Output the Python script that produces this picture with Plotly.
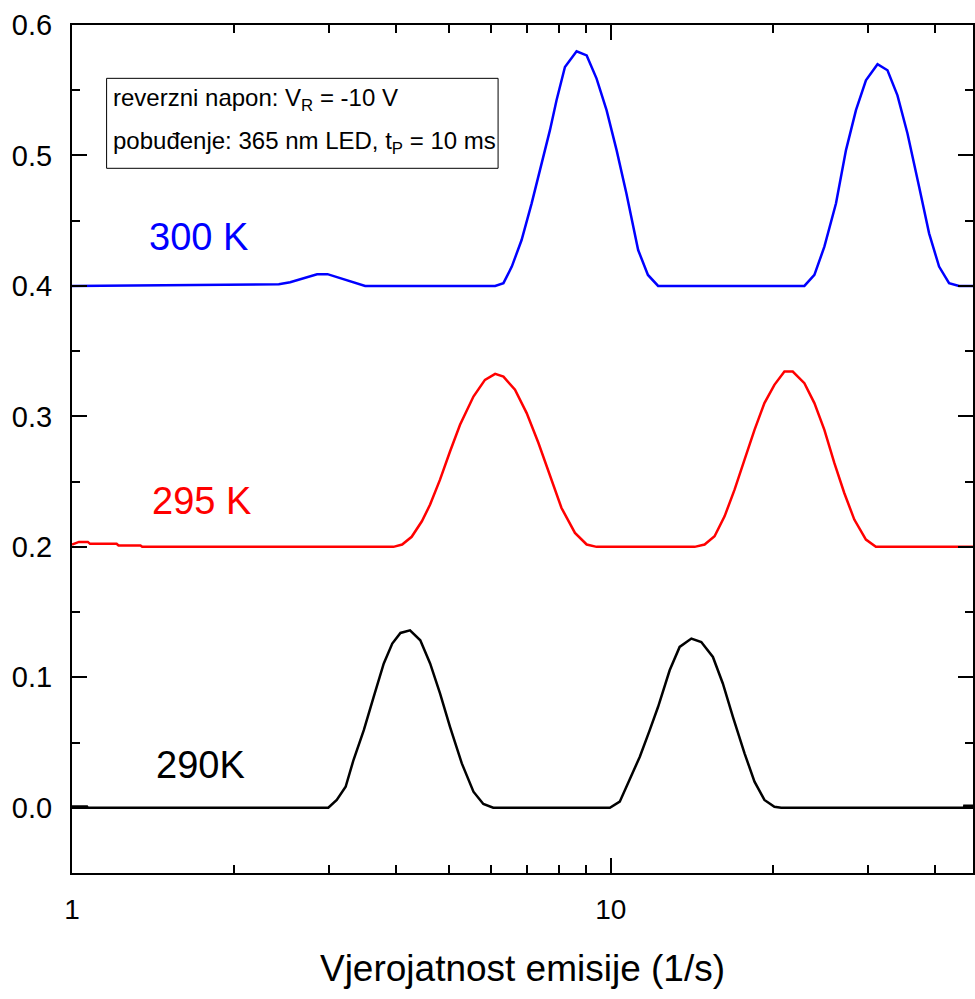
import plotly.graph_objects as go

# Emission rate (1/s) and signal values
x_300 = [1.0, 2.42, 2.54, 2.66, 2.77, 2.85, 2.98, 3.10, 3.24, 3.38, 3.50,
         6.10, 6.32, 6.55, 6.83, 7.13, 7.39, 7.71, 7.93, 8.22, 8.64, 9.02, 9.41,
         9.82, 10.25, 10.69, 11.24, 11.72, 12.24,
         22.87, 23.87, 24.91, 26.18, 27.32, 28.51, 29.75, 31.26, 32.62, 34.04,
         35.53, 37.34, 38.97, 40.67, 42.44, 44.29, 47.22]
y_300 = [0.400, 0.4013, 0.4028, 0.4051, 0.4077, 0.409, 0.409, 0.4067, 0.4041, 0.4021, 0.400,
         0.400, 0.4021, 0.4148, 0.4352, 0.4633, 0.4888, 0.5194, 0.5423, 0.5678, 0.5798, 0.5767, 0.5589,
         0.5347, 0.5041, 0.4709, 0.4275, 0.4084, 0.400,
         0.400, 0.4084, 0.4301, 0.4633, 0.5041, 0.5347, 0.5576, 0.5699, 0.5653, 0.5461,
         0.5168, 0.476, 0.4403, 0.4148, 0.4021, 0.400, 0.400]

x_295 = [1.0, 1.03, 1.07, 1.08, 1.21, 1.22, 1.34, 1.35,
         3.95, 4.10, 4.27, 4.46, 4.62, 4.82, 5.03, 5.25, 5.56, 5.84, 6.10, 6.32,
         6.64, 6.98, 7.34, 7.71, 8.10, 8.58, 9.02, 9.41,
         14.31, 14.93, 15.58, 16.26, 16.97, 17.71, 18.48, 19.28, 20.12, 21.0, 21.76,
         22.87, 23.87, 24.91, 25.99, 27.12, 28.31, 29.75, 31.04, 47.22]
y_295 = [0.2018, 0.2038, 0.2038, 0.2023, 0.2023, 0.201, 0.201, 0.200,
         0.200, 0.2018, 0.2077, 0.2196, 0.2324, 0.2515, 0.2731, 0.2936, 0.3152, 0.328, 0.3326, 0.3305,
         0.3204, 0.3025, 0.2796, 0.254, 0.2298, 0.2107, 0.2018, 0.200,
         0.200, 0.2018, 0.2081, 0.2234, 0.2438, 0.2668, 0.2897, 0.3102, 0.3242, 0.3344, 0.3344,
         0.3255, 0.3102, 0.2897, 0.2643, 0.2413, 0.2209, 0.2056, 0.200, 0.200]

x_290 = [1.0, 1.066, 1.07, 2.99, 3.10, 3.22, 3.33, 3.48, 3.63, 3.79, 3.93, 4.07, 4.24,
         4.43, 4.62, 4.82, 5.03, 5.29, 5.56, 5.80, 6.05,
         9.96, 10.39, 10.84, 11.32, 11.81, 12.24, 12.86, 13.42, 14.11, 14.72, 15.47,
         16.14, 16.85, 17.71, 18.48, 19.28, 20.12, 20.71, 45.24, 45.3, 47.22]
y_290 = [0.001, 0.001, 0.000, 0.000, 0.006, 0.0161, 0.0366, 0.0595, 0.085, 0.1106, 0.1259, 0.134, 0.136,
         0.1284, 0.1106, 0.0876, 0.062, 0.034, 0.0123, 0.0029, 0.000,
         0.000, 0.0047, 0.0213, 0.0391, 0.0595, 0.0774, 0.1054, 0.1233, 0.1297, 0.1271, 0.1156,
         0.0953, 0.0697, 0.0417, 0.020, 0.006, 0.0008, 0.000, 0.000, 0.0015, 0.0015]

series_names = ["300 K", "295 K", "290K"]
series_colors = ["#0000FF", "#FF0000", "#000000"]

y_tickvals = [0.0, 0.1, 0.2, 0.3, 0.4, 0.5, 0.6]
x_tickvals = [1, 10]
x_ticktext = ["1", "10"]
x_minorvals = [2, 3, 4, 5, 6, 7, 8, 9, 20, 30, 40]

x_title = "Vjerojatnost emisije (1/s)"
info_line1 = "reverzni napon: V<sub>R</sub> = -10 V"
info_line2 = "pobuđenje: 365 nm LED, t<sub>P</sub> = 10 ms"

FONT = "Arial, 'Liberation Sans', sans-serif"

fig = go.Figure()
for xs, ys, name, col in zip([x_300, x_295, x_290], [y_300, y_295, y_290],
                             series_names, series_colors):
    fig.add_trace(go.Scatter(x=xs, y=ys, mode="lines", name=name,
                             line=dict(color=col, width=2.5), showlegend=False))

fig.update_layout(
    width=975, height=999,
    margin=dict(l=72, r=0, t=25, b=126),
    paper_bgcolor="white", plot_bgcolor="white",
    font=dict(family=FONT, color="black"),
)

fig.update_xaxes(
    type="log", range=[0, 1.6722],
    showgrid=False, zeroline=False,
    showline=True, linecolor="black", linewidth=2, mirror="allticks",
    ticks="inside", ticklen=15, tickwidth=2, tickcolor="black",
    tickvals=x_tickvals, ticktext=x_ticktext,
    tickfont=dict(size=28, family=FONT),
    ticklabelstandoff=10,
    minor=dict(ticks="inside", ticklen=8, tickwidth=2, tickcolor="black",
               tickvals=x_minorvals, showgrid=False),
    title=dict(text=x_title, font=dict(size=37, family=FONT), standoff=32),
)
fig.update_yaxes(
    range=[-0.05, 0.6],
    showgrid=False, zeroline=False,
    showline=True, linecolor="black", linewidth=2, mirror="allticks",
    ticks="inside", ticklen=15, tickwidth=2, tickcolor="black",
    tickvals=y_tickvals, tickformat=".1f",
    tickfont=dict(size=29, family=FONT),
    ticklabelstandoff=12,
    minor=dict(ticks="inside", ticklen=8, tickwidth=2, tickcolor="black",
               dtick=0.05, showgrid=False),
)

# curve labels
label_pos = [(0.1406, 0.4375), (0.144, 0.2352), (0.1429, 0.0328)]
for (px, py), name, col in zip(label_pos, series_names, series_colors):
    fig.add_annotation(x=px, xref="paper", y=py, yref="y", text=name,
                       showarrow=False, xanchor="center", yanchor="middle",
                       font=dict(size=38, color=col, family=FONT))

# info box
fig.add_shape(type="rect", xref="paper", yref="paper",
              x0=0.0384, x1=0.4729, y0=0.831, y1=0.9371,
              line=dict(color="black", width=1), fillcolor="rgba(0,0,0,0)")
fig.add_annotation(x=0.0429, xref="paper", y=0.9127, yref="paper", text=info_line1,
                   showarrow=False, xanchor="left", yanchor="middle",
                   font=dict(size=24, family=FONT, color="black"))
fig.add_annotation(x=0.0429, xref="paper", y=0.862, yref="paper", text=info_line2,
                   showarrow=False, xanchor="left", yanchor="middle",
                   font=dict(size=24, family=FONT, color="black"))

fig.write_html("out.html")
